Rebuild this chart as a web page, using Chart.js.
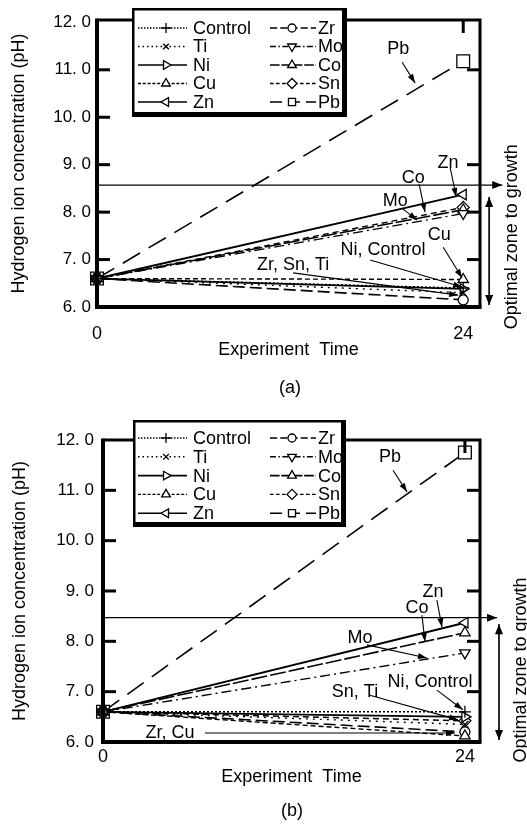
<!DOCTYPE html>
<html><head><meta charset="utf-8">
<script src="https://cdn.jsdelivr.net/npm/chart.js@4"></script>
<style>
html,body{margin:0;padding:0;background:#fff;width:527px;height:826px;overflow:hidden}
canvas{position:absolute;left:0}
#ca{top:0}
#cb{top:400px}
</style></head><body>
<canvas id="ca" width="527" height="400"></canvas>
<canvas id="cb" width="527" height="426"></canvas>
<script>
// ---------- data ----------
const times = [0, 24];
const series = ['Control','Ti','Ni','Cu','Zn','Zr','Mo','Co','Sn','Pb'];
const startA = [6.6, 6.6, 6.6, 6.6, 6.6, 6.6, 6.6, 6.6, 6.6, 6.6];
const endA   = [6.4, 6.3, 6.38, 6.58, 8.37, 6.15, 7.97, 8.05, 8.1, 11.18];
const startB = [6.6, 6.6, 6.6, 6.6, 6.6, 6.6, 6.6, 6.6, 6.6, 6.6];
const endB   = [6.6, 6.35, 6.5, 6.12, 8.37, 6.2, 7.77, 8.17, 6.42, 11.75];
const yTickValues = [6, 7, 8, 9, 10, 11, 12];
const yTickLabels = ['6. 0','7. 0','8. 0','9. 0','10. 0','11. 0','12. 0'];
const xTickValues = [0, 24];
const xTickLabels = ['0', '24'];
const optimalA = 8.57;
const optimalB = 8.47;

// annotations (data coordinates)
const notesA = [
  {text:'Pb', x:19.74, y:11.43, from:[20.0,11.16], to:[20.85,10.72]},
  {text:'Zn', x:23.0, y:9.03, from:[23.15,8.93], to:[23.54,8.32]},
  {text:'Co', x:20.72, y:8.72, from:[21.11,8.59], to:[21.5,8.0]},
  {text:'Mo', x:19.54, y:8.23, from:[20.0,8.08], to:[20.98,7.83]},
  {text:'Cu', x:22.43, y:7.52, from:[22.69,7.26], to:[23.93,6.61]},
  {text:'Ni, Control', x:18.75, y:7.2, from:[17.9,6.99], to:[23.93,6.42]},
  {text:'Zr, Sn, Ti', x:12.85, y:6.88, from:[12.85,6.72], to:[23.67,6.25]}
];
const notesB = [
  {text:'Pb', x:19.03, y:11.66, from:[19.23,11.4], to:[20.16,10.97]},
  {text:'Zn', x:21.88, y:8.98, from:[22.14,8.82], to:[22.48,8.28]},
  {text:'Co', x:20.82, y:8.66, from:[21.15,8.52], to:[21.35,7.99]},
  {text:'Mo', x:17.04, y:8.07, from:[17.5,7.93], to:[21.48,7.67]},
  {text:'Ni, Control', x:21.68, y:7.19, from:[22.14,7.03], to:[23.87,6.64]},
  {text:'Sn, Ti', x:16.71, y:6.99, from:[17.7,6.93], to:[23.54,6.44]},
  {text:'Zr, Cu', x:4.44, y:6.18, from:[6.76,6.18], to:[23.34,6.18]}
];

// ---------- styles ----------
const styles = {
  Control:{dash:[2,2], point:'cross', rot:0, r:6, w:1.4},
  Ti:{dash:[2,5], point:'crossRot', rot:0, r:5, w:1.4},
  Ni:{dash:[], point:'triangle', rot:90, r:6, w:1.7},
  Cu:{dash:[5,3], point:'triangle', rot:0, r:6, w:1.4},
  Zn:{dash:[], point:'triangle', rot:-90, r:6, w:1.9},
  Zr:{dash:[12,5], point:'circle', rot:0, r:5, w:1.6},
  Mo:{dash:[10,4,2,4], point:'triangle', rot:180, r:6, w:1.4},
  Co:{dash:[16,3], point:'triangle', rot:0, r:6, w:1.6},
  Sn:{dash:[6,4], point:'rectRot', rot:0, r:6, w:1.4},
  Pb:{dash:[20,10], point:'rect', rot:0, r:9, w:1.6}
};
const FONT = '"Liberation Sans", Arial, sans-serif';

function drawMarker(ctx, st, x, y, r) {
  ctx.save();
  ctx.setLineDash([]);
  ctx.lineWidth = 1.3;
  ctx.strokeStyle = '#000';
  ctx.fillStyle = '#fff';
  Chart.helpers.drawPoint(ctx, {pointStyle: st.point, rotation: st.rot, radius: r, borderWidth: 1.3}, x, y);
  ctx.restore();
}

function arrow(ctx, x1, y1, x2, y2, head, half) {
  head = head || 8; half = half || 3;
  ctx.beginPath(); ctx.moveTo(x1, y1); ctx.lineTo(x2, y2); ctx.stroke();
  const a = Math.atan2(y2 - y1, x2 - x1);
  ctx.beginPath();
  ctx.moveTo(x2, y2);
  ctx.lineTo(x2 - head*Math.cos(a) + half*Math.sin(a), y2 - head*Math.sin(a) - half*Math.cos(a));
  ctx.lineTo(x2 - head*Math.cos(a) - half*Math.sin(a), y2 - head*Math.sin(a) + half*Math.cos(a));
  ctx.closePath(); ctx.fill();
}

function makeChart(id, cfg) {
  const datasets = series.map((name, i) => {
    const st = styles[name];
    return {
      label: name,
      data: times.map((t, k) => ({x: t, y: k === 0 ? cfg.start[i] : cfg.end[i]})),
      borderColor: '#000',
      borderWidth: st.w,
      borderDash: st.dash,
      pointStyle: st.point,
      pointRotation: st.rot,
      pointRadius: st.r,
      pointBorderWidth: 1.3,
      pointBorderColor: '#000',
      pointBackgroundColor: '#fff',
      tension: 0,
      clip: false
    };
  });

  const decor = {
    id: 'decor',
    afterDatasetsDraw(chart) {
      const ctx = chart.ctx;
      const xs = chart.scales.x, ys = chart.scales.y;
      const ca = chart.chartArea;
      const X = v => xs.getPixelForValue(v), Y = v => ys.getPixelForValue(v);
      ctx.save();
      ctx.strokeStyle = '#000'; ctx.fillStyle = '#000';
      ctx.setLineDash([]);
      // frame
      ctx.lineWidth = 3;
      ctx.beginPath(); ctx.moveTo(ca.left, ca.top); ctx.lineTo(ca.right, ca.top); ctx.lineTo(ca.right, ca.bottom); ctx.stroke();
      ctx.lineWidth = 4;
      ctx.beginPath(); ctx.moveTo(ca.left, ca.top - 1.5); ctx.lineTo(ca.left, ca.bottom); ctx.lineTo(ca.right + 1.5, ca.bottom); ctx.stroke();
      // inner ticks
      ctx.lineWidth = 3;
      cfg.leftTicks.forEach(v => { ctx.beginPath(); ctx.moveTo(ca.left, Y(v)); ctx.lineTo(ca.left + 13, Y(v)); ctx.stroke(); });
      cfg.rightTicks.forEach(v => { ctx.beginPath(); ctx.moveTo(ca.right, Y(v)); ctx.lineTo(ca.right - 13, Y(v)); ctx.stroke(); });
      ctx.beginPath(); ctx.moveTo(X(24), ca.top); ctx.lineTo(X(24), ca.top + 13); ctx.stroke();
      // optimal line
      ctx.lineWidth = 1.2;
      arrow(ctx, ca.left, Y(cfg.optimal), X(cfg.hEnd), Y(cfg.optimal), 10, 4);
      // vertical double arrow
      const vx = X(cfg.vX);
      arrow(ctx, vx, Y(cfg.vBot), vx, Y(cfg.vTop), 10, 4);
      arrow(ctx, vx, Y(cfg.vTop), vx, Y(cfg.vBot), 10, 4);
      // annotations
      ctx.font = '18px ' + FONT;
      ctx.textAlign = 'center'; ctx.textBaseline = 'middle';
      ctx.lineWidth = 1.1;
      cfg.notes.forEach(n => {
        ctx.fillStyle = '#000';
        ctx.fillText(n.text, X(n.x), Y(n.y));
        arrow(ctx, X(n.from[0]), Y(n.from[1]), X(n.to[0]), Y(n.to[1]), 9, 3);
      });
      // rotated right label
      ctx.save();
      ctx.translate(X(cfg.optX), Y(cfg.optY));
      ctx.rotate(-Math.PI / 2);
      ctx.fillText('Optimal zone to growth', 0, 0);
      ctx.restore();
      // panel label
      ctx.fillText(cfg.panel, cfg.panelX, cfg.panelY);
      // legend box
      const L = cfg.legend;
      ctx.fillStyle = '#fff';
      ctx.fillRect(L.x1, L.y1, L.x2 - L.x1, L.y2 - L.y1);
      ctx.fillStyle = '#000';
      ctx.lineWidth = 2.5;
      ctx.strokeRect(L.x1 + 1.25, L.y1 + 1.25, L.x2 - L.x1 - 2.5, L.y2 - L.y1 - 2.5);
      ctx.fillRect(L.x2 - 5, L.y1, 5, L.y2 - L.y1);
      ctx.fillRect(L.x1, L.y2 - 5, L.x2 - L.x1, 5);
      ctx.textAlign = 'left';
      series.forEach((name, i) => {
        const st = styles[name];
        const col = i < 5 ? 0 : 1;
        const row = i % 5;
        const c = L.cols[col];
        const y = L.row0 + row * L.pitch;
        ctx.save();
        ctx.lineWidth = Math.min(st.w, 1.6);
        ctx.setLineDash(st.dash.length ? st.dash.map(d => Math.max(1.5, d * 0.6)) : []);
        ctx.beginPath(); ctx.moveTo(c.s1, y); ctx.lineTo(c.s2, y); ctx.stroke();
        ctx.restore();
        drawMarker(ctx, st, c.m, y, Math.min(st.r, 6) - 1);
      });
      series.forEach((name, i) => {
        const col = i < 5 ? 0 : 1;
        const row = i % 5;
        const c = L.cols[col];
        const y = L.row0 + row * L.pitch;
        ctx.fillStyle = '#000';
        ctx.fillText(name, c.t, y + 1);
      });
      ctx.restore();
    }
  };

  return new Chart(document.getElementById(id), {
    type: 'line',
    data: {datasets},
    options: {
      responsive: false,
      animation: false,
      events: [],
      layout: {padding: {top: cfg.padTop, right: cfg.padRight, left: 0, bottom: 0}},
      plugins: {legend: {display: false}, tooltip: {enabled: false}},
      scales: {
        x: {
          type: 'linear', min: 0, max: cfg.xMax,
          grid: {display: false, drawTicks: false}, border: {display: false},
          afterBuildTicks: s => { s.ticks = xTickValues.map(v => ({value: v})); },
          afterFit: s => { s.height = cfg.xHeight; },
          ticks: {
            padding: cfg.xTickPad, color: '#000', maxRotation: 0,
            font: {family: FONT, size: 18},
            callback: (v, i) => xTickLabels[i]
          },
          title: {display: true, text: 'Experiment  Time', color: '#000',
            font: {family: FONT, size: 18}, padding: {top: 0, bottom: cfg.xTitlePad}}
        },
        y: {
          type: 'linear', min: 6, max: cfg.yMax,
          grid: {display: false, drawTicks: false}, border: {display: false},
          afterBuildTicks: s => { s.ticks = yTickValues.map(v => ({value: v})); },
          afterFit: s => { s.width = cfg.yWidth; },
          ticks: {
            padding: cfg.yTickPad, color: '#000',
            font: {family: FONT, size: 17},
            callback: (v, i) => yTickLabels[i]
          },
          title: {display: true, text: 'Hydrogen ion concentration (pH)', color: '#000',
            font: {family: FONT, size: 18}, padding: {top: cfg.yTitlePad, bottom: 0}}
        }
      }
    },
    plugins: [decor]
  });
}

makeChart('ca', {
  start: startA, end: endA, optimal: optimalA, notes: notesA,
  xMax: 25.1, yMax: 12.05, padTop: 20, padRight: 47, xHeight: 93, yWidth: 97,
  xTickPad: 16, yTickPad: 6, xTitlePad: 39, yTitlePad: 8,
  leftTicks: [7, 8, 9, 10, 11], rightTicks: [7, 8, 9, 11],
  hEnd: 26.56, vX: 25.7, vTop: 8.32, vBot: 6.04, optX: 27.2, optY: 7.48,
  panel: '(a)', panelX: 290, panelY: 388,
  legend: {x1: 132, y1: 8, x2: 347, y2: 117, row0: 28, pitch: 18.5,
    cols: [{s1: 138, s2: 187, m: 166, t: 193}, {s1: 270, s2: 316, m: 292, t: 318}]}
});

makeChart('cb', {
  start: startB, end: endB, optimal: optimalB, notes: notesB,
  xMax: 25, yMax: 12, padTop: 40, padRight: 47, xHeight: 84, yWidth: 103,
  xTickPad: 4, yTickPad: 9, xTitlePad: 38, yTitlePad: 9,
  leftTicks: [7, 8, 9, 10, 11], rightTicks: [7, 8, 9, 10, 11],
  hEnd: 26.13, vX: 26.26, vTop: 8.34, vBot: 6.04, optX: 27.72, optY: 7.43,
  panel: '(b)', panelX: 292, panelY: 411,
  legend: {x1: 133, y1: 20, x2: 346, y2: 127, row0: 38, pitch: 18.8,
    cols: [{s1: 138, s2: 187, m: 166, t: 193}, {s1: 270, s2: 316, m: 292, t: 318}]}
});
</script>
</body></html>
